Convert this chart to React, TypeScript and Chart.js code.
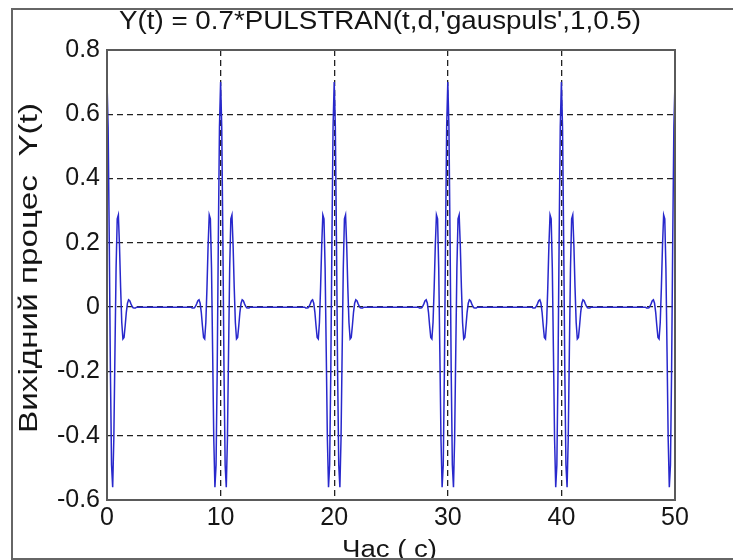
import React, { useEffect, useRef } from "react";
import { Chart, registerables } from "chart.js";

Chart.register(...registerables);

const titleText = "Y(t) = 0.7*PULSTRAN(t,d,'gauspuls',1,0.5)";
const xLabel = "Час ( с)";
const yLabel = "Вихідний процес  Y(t)";

const xTicks = [0, 10, 20, 30, 40, 50];
const yTicks = [-0.6, -0.4, -0.2, 0, 0.2, 0.4, 0.6, 0.8];

const pulseCenters = [0, 10, 20, 30, 40, 50];

const pulseOffsets = [
  -2.6, -2.5, -2.4, -2.3, -2.2, -2.1, -2.0, -1.9, -1.8, -1.7, -1.6, -1.5, -1.4,
  -1.3, -1.2, -1.1, -1.0, -0.9, -0.8, -0.7, -0.6, -0.5, -0.4, -0.3, -0.2, -0.1,
  0,
  0.1, 0.2, 0.3, 0.4, 0.5, 0.6, 0.7, 0.8, 0.9, 1.0, 1.1, 1.2, 1.3,
  1.4, 1.5, 1.6, 1.7, 1.8, 1.9, 2.0, 2.1, 2.2, 2.3, 2.4, 2.5, 2.6,
];

const pulseValues = [
  0, -0.003, -0.003, -0.002, 0.003, 0.011, 0.02, 0.023, 0.012, -0.016, -0.058, -0.094, -0.099,
  -0.048, 0.06, 0.192, 0.287, 0.275, 0.122, -0.14, -0.411, -0.56, -0.491, -0.2, 0.209, 0.561,
  0.7,
  0.561, 0.209, -0.2, -0.491, -0.56, -0.411, -0.14, 0.122, 0.275, 0.287, 0.192, 0.06, -0.048,
  -0.099, -0.094, -0.058, -0.016, 0.012, 0.023, 0.02, 0.011, 0.003, -0.002, -0.003, -0.003, 0,
];

const FONT = '"Liberation Sans", Arial, Helvetica, sans-serif';

function buildPoints() {
  const pts: { x: number; y: number }[] = [];
  pulseCenters.forEach((c) => {
    pulseOffsets.forEach((off, i) => {
      const t = Math.round((c + off) * 100) / 100;
      if (t >= 0 && t <= 50) pts.push({ x: t, y: pulseValues[i] });
    });
  });
  return pts;
}

function drawStretched(
  ctx: CanvasRenderingContext2D,
  text: string,
  x: number,
  y: number,
  size: number,
  targetW: number,
  rot: number
) {
  ctx.save();
  ctx.font = `${size}px ${FONT}`;
  const w = ctx.measureText(text).width;
  ctx.translate(x, y);
  ctx.rotate(rot);
  ctx.scale(targetW / w, 1);
  ctx.textAlign = "center";
  ctx.textBaseline = "alphabetic";
  ctx.fillText(text, 0, 0);
  ctx.restore();
}

const matlabDecor = {
  id: "matlabDecor",
  afterDraw(chart: any) {
    const ctx: CanvasRenderingContext2D = chart.ctx;
    const ca = chart.chartArea;
    ctx.save();
    ctx.setLineDash([]);
    ctx.strokeStyle = "#5a5a5a";
    ctx.lineWidth = 2;
    ctx.strokeRect(ca.left, ca.top, ca.right - ca.left, ca.bottom - ca.top);
    ctx.fillStyle = "#151515";
    drawStretched(ctx, titleText, 380, 29, 26, 522, 0);
    drawStretched(ctx, xLabel, 389.5, 557, 23, 95, 0);
    drawStretched(ctx, yLabel, 36.5, 268, 25, 330, -Math.PI / 2);
    ctx.restore();
  },
};

export default function App() {
  const canvasRef = useRef<HTMLCanvasElement | null>(null);

  useEffect(() => {
    if (!canvasRef.current) return;
    const chart = new Chart(canvasRef.current, {
      type: "scatter",
      data: {
        datasets: [
          {
            data: buildPoints(),
            showLine: true,
            borderColor: "#2828cc",
            borderWidth: 1.5,
            pointRadius: 0,
            tension: 0,
          },
        ],
      },
      options: {
        animation: false,
        responsive: true,
        maintainAspectRatio: false,
        devicePixelRatio: 1,
        layout: { padding: { top: 50, left: 0, right: 58, bottom: 0 } },
        plugins: {
          legend: { display: false },
          title: { display: false },
          tooltip: { enabled: false },
        },
        scales: {
          x: {
            type: "linear",
            min: 0,
            max: 50,
            afterBuildTicks: (s: any) => {
              s.ticks = xTicks.map((v) => ({ value: v }));
            },
            afterFit: (s: any) => {
              s.height = 60;
            },
            ticks: {
              font: { family: FONT, size: 25 },
              color: "#151515",
              padding: 3,
              maxRotation: 0,
              autoSkip: false,
              callback: (v: any) => String(v),
            },
            grid: { color: "#222", lineWidth: 1.3, drawTicks: false },
            border: { display: false, dash: [6, 4] },
          },
          y: {
            type: "linear",
            min: -0.6,
            max: 0.8,
            afterBuildTicks: (s: any) => {
              s.ticks = yTicks.map((v) => ({ value: v }));
            },
            afterFit: (s: any) => {
              s.width = 107;
            },
            ticks: {
              font: { family: FONT, size: 25 },
              color: "#151515",
              padding: 7,
              autoSkip: false,
              callback: (v: any) => String(Math.round(v * 10) / 10),
            },
            grid: { color: "#222", lineWidth: 1.3, drawTicks: false },
            border: { display: false, dash: [6, 4] },
          },
        },
      },
      plugins: [matlabDecor],
    });
    return () => chart.destroy();
  }, []);

  return (
    <div
      style={{
        position: "fixed",
        left: 0,
        top: 0,
        width: 733,
        height: 560,
        overflow: "hidden",
        background: "#fff",
      }}
    >
      <div style={{ position: "absolute", left: 0, top: 0, width: 733, height: 560 }}>
        <canvas ref={canvasRef} />
      </div>
      <div
        style={{
          position: "absolute",
          left: 11,
          top: 8,
          width: 800,
          height: 552,
          boxSizing: "border-box",
          border: "2px solid #666",
          pointerEvents: "none",
        }}
      />
    </div>
  );
}
